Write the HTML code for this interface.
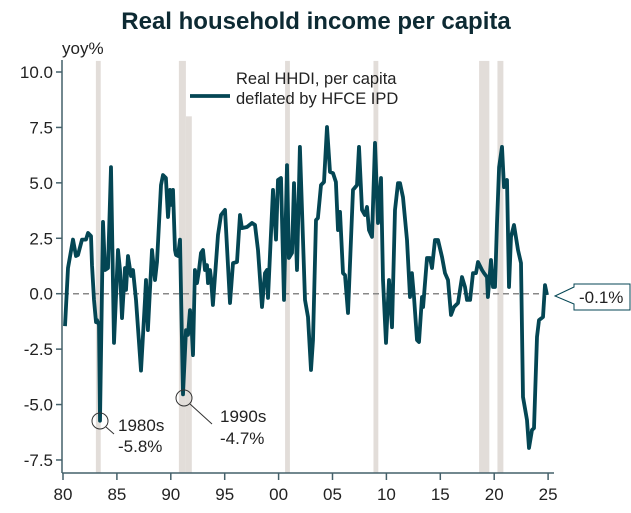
<!DOCTYPE html>
<html><head><meta charset="utf-8"><style>
body{margin:0;background:#fff;}
svg{display:block;font-family:"Liberation Sans",Arial,sans-serif;}
</style></head><body>
<svg width="631" height="513" viewBox="0 0 631 513">
<text x="316" y="29" text-anchor="middle" font-size="24" font-weight="bold" fill="#0d2a33">Real household income per capita</text>
<text x="62" y="54" font-size="17" fill="#222">yoy%</text>
<g id="bands"></g>
<g id="grid"></g>
<line x1="63" x2="548" id="zero" stroke="#888" stroke-width="1.5" stroke-dasharray="6,4"/>
<path id="series" fill="none" stroke="#044654" stroke-width="3.8" stroke-linejoin="round"/>
<g>
<line x1="190" x2="230" y1="96" y2="96" stroke="#044654" stroke-width="3.8"/>
<text x="236" y="84" font-size="16.5" fill="#222">Real HHDI, per capita</text>
<text x="236" y="104" font-size="16.5" fill="#222">deflated by HFCE IPD</text>
</g>
<g>
<circle cx="100" cy="421" r="8" fill="none" stroke="#333" stroke-width="1"/>
<line x1="106" y1="427" x2="114" y2="434" stroke="#333"/>
<text x="118" y="431" font-size="17" fill="#222">1980s</text>
<text x="118" y="452" font-size="17" fill="#222">-5.8%</text>
</g>
<g>
<circle cx="184" cy="398" r="8" fill="none" stroke="#333" stroke-width="1"/>
<line x1="190" y1="404" x2="212" y2="424" stroke="#333"/>
<text x="220" y="422" font-size="17" fill="#222">1990s</text>
<text x="220" y="444" font-size="17" fill="#222">-4.7%</text>
</g>
<g>
<path d="M555,296 L574,287 L574,284 L630,284 L630,310 L574,310 L574,304 Z" fill="#fff" stroke="#044654" stroke-width="1"/>
<text x="579" y="303" font-size="17" fill="#222">-0.1%</text>
</g>
<script>
const yearOffsets=[0.19,0.46,0.93,1.21,1.39,1.76,2.13,2.32,2.60,2.69,2.88,3.06,3.15,3.34,3.43,3.71,3.90,4.17,4.45,4.73,5.10,5.29,5.47,5.75,5.84,6.03,6.31,6.49,6.77,7.24,7.61,7.70,7.88,8.26,8.53,8.72,9.09,9.28,9.55,9.74,9.93,10.11,10.20,10.39,10.48,10.67,10.85,11.13,11.41,11.60,11.78,11.97,12.06,12.24,12.43,12.62,12.80,12.99,13.17,13.36,13.45,13.64,13.73,13.91,14.38,14.66,15.03,15.49,15.77,16.14,16.42,16.60,17.07,17.53,17.81,18.09,18.46,18.74,18.92,19.02,19.48,19.76,19.94,20.22,20.50,20.78,20.96,21.24,21.43,21.71,21.98,22.45,22.73,23.01,23.19,23.47,23.65,23.93,24.21,24.49,24.77,25.05,25.32,25.51,25.70,25.97,26.16,26.44,26.90,27.27,27.46,27.74,28.01,28.20,28.39,28.66,28.94,29.22,29.50,29.68,29.96,30.24,30.52,30.80,31.08,31.26,31.54,31.91,32.19,32.37,32.56,32.84,33.02,33.30,33.40,33.77,34.04,34.23,34.51,34.79,35.16,35.44,35.71,35.99,36.27,36.64,37.01,37.29,37.48,37.76,38.03,38.31,38.50,38.87,39.05,39.33,39.42,39.70,39.89,40.07,40.26,40.45,40.72,40.91,41.19,41.37,41.56,41.84,42.21,42.49,42.67,43.04,43.23,43.51,43.69,43.97,44.16,44.53,44.71,44.90];
const incomeGrowth=[-1.46,1.16,2.44,1.70,1.75,2.44,2.44,2.74,2.60,1.29,-0.28,-1.28,-1.19,-1.41,-5.73,3.24,1.07,1.16,5.71,-2.22,1.97,1.07,-1.10,1.16,0.17,1.70,0.80,1.07,-0.28,-3.47,-0.28,0.62,-1.64,1.97,0.62,1.43,4.90,5.35,5.22,3.46,4.68,4.00,4.68,1.97,1.75,1.70,2.44,-4.54,-1.64,-1.86,-0.74,-1.86,-2.77,1.07,0.48,1.07,1.84,1.97,1.07,1.29,0.48,1.07,0.71,-0.51,2.65,3.55,3.78,-0.42,1.38,1.43,3.55,2.96,3.01,3.19,3.10,1.97,-0.60,0.93,1.07,-0.19,4.68,2.44,5.13,5.22,-0.28,5.80,1.61,1.84,4.99,1.07,6.62,-0.28,-1.05,-3.44,-2.09,3.32,3.41,4.90,5.04,7.52,5.49,5.44,5.04,2.87,3.69,0.93,0.84,-0.87,4.68,4.90,6.62,3.78,3.55,3.91,2.87,2.56,6.80,3.19,5.22,0.62,-2.22,0.62,-1.51,3.78,4.99,4.99,4.35,2.42,-0.15,0.93,-0.15,-2.09,-2.18,-0.15,-0.60,1.61,1.61,1.16,2.42,2.42,1.66,0.93,0.62,-0.96,-0.60,-0.42,0.75,0.30,-0.28,-0.28,0.93,0.93,1.43,1.07,0.93,0.75,-0.15,1.52,0.30,0.30,3.19,5.71,6.62,4.81,5.13,0.30,2.56,3.10,1.97,1.38,-4.66,-5.70,-6.96,-6.15,-6.06,-1.95,-1.19,-1.05,0.39,-0.06];
const recessionStarts=[1983.05,1990.75,1991.4,2000.6,2008.8,2018.6,2020.3];
const recessionEnds=[1983.5,1991.4,1991.95,2001.05,2009.25,2019.55,2020.85];
const recessionTops=[10.5,10.5,8.0,10.5,10.5,10.5,10.5];
const yTicks=[10.0,7.5,5.0,2.5,0.0,-2.5,-5.0,-7.5];
const xTicks=[1980,1985,1990,1995,2000,2005,2010,2015,2020,2025];
const xTickLabels=["80","85","90","95","00","05","10","15","20","25"];
const NS="http://www.w3.org/2000/svg";
const X=y=>63+(y-1980)*10.78;
const Y=v=>293.7-v*22.17;
const bands=document.getElementById('bands');
recessionStarts.forEach((s,i)=>{const r=document.createElementNS(NS,'rect');
r.setAttribute('x',X(s));r.setAttribute('width',X(recessionEnds[i])-X(s));
r.setAttribute('y',Y(recessionTops[i]));r.setAttribute('height',473-Y(recessionTops[i]));
r.setAttribute('fill','#e2ddd9');


bands.appendChild(r);});
const g=document.getElementById('grid');
function el(t,a){const e=document.createElementNS(NS,t);for(const k in a)e.setAttribute(k,a[k]);g.appendChild(e);return e;}
const ya=el('line',{x1:62,x2:62,y1:60,y2:473,stroke:'#44606a','stroke-width':1.5});


const xa=el('line',{x1:62,x2:554,y1:473,y2:473,stroke:'#44606a','stroke-width':1.5});


yTicks.forEach(v=>{el('line',{x1:56,x2:62,y1:Y(v),y2:Y(v),stroke:'#44606a','stroke-width':1.5});
const t=el('text',{x:53,y:Y(v)+6,'text-anchor':'end','font-size':17,fill:'#222'});t.textContent=v.toFixed(1);

});
xTicks.forEach((y,i)=>{el('line',{x1:X(y),x2:X(y),y1:473,y2:480,stroke:'#44606a','stroke-width':1.5});
const t=el('text',{x:X(y),y:500,'text-anchor':'middle','font-size':17,fill:'#222'});t.textContent=xTickLabels[i];

});
const z=document.getElementById('zero');z.setAttribute('y1',Y(0));z.setAttribute('y2',Y(0));
document.getElementById('series').setAttribute('d',yearOffsets.map((o,i)=>(i?'L':'M')+X(1980+o).toFixed(1)+','+Y(incomeGrowth[i]).toFixed(1)).join(''));
</script>
</svg>
</body></html>
